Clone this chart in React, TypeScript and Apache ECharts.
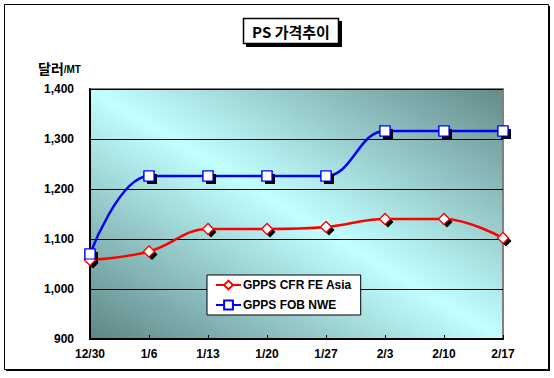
import React, { useEffect, useRef } from "react";
import * as echarts from "echarts";

const categories = ["12/30", "1/6", "1/13", "1/20", "1/27", "2/3", "2/10", "2/17"];
const cfrFeAsia = [1058, 1075, 1120, 1120, 1124, 1140, 1140, 1102];
const fobNwe = [1070, 1226, 1226, 1226, 1226, 1316, 1316, 1316];
const seriesNames = ["GPPS CFR FE Asia", "GPPS FOB NWE"];
const yTicks = { min: 900, max: 1400, interval: 100 };

const LATIN = "'Liberation Sans', Arial, 'Noto Sans CJK KR', sans-serif";
const KR = "'Noto Sans CJK KR', 'Liberation Sans', sans-serif";

export default function App() {
  const ref = useRef<HTMLDivElement>(null);

  useEffect(() => {
    if (!ref.current) return;
    const chart = echarts.init(ref.current, null, { renderer: "svg" });

    const shadowSeries = (name: string, data: number[], symbol: string, size: number) => ({
      name,
      type: "scatter",
      data,
      symbol,
      symbolSize: size,
      symbolOffset: [3, 3],
      itemStyle: { color: "#000000", opacity: 1 },
      z: 4,
      silent: true,
    });

    const markerSeries = (name: string, data: number[], symbol: string, size: number, color: string) => ({
      name,
      type: "scatter",
      data,
      symbol,
      symbolSize: size,
      itemStyle: { color: "#ffffff", borderColor: color, borderWidth: 1.2, opacity: 1 },
      z: 5,
      silent: true,
    });

    chart.setOption({
      animation: false,
      backgroundColor: "#ffffff",
      grid: {
        left: 90,
        right: 51,
        top: 89,
        bottom: 39,
        show: true,
        borderColor: "#808080",
        borderWidth: 2,
        backgroundColor: {
          type: "linear",
          x: 0,
          y: 1,
          x2: 1,
          y2: 0,
          colorStops: [
            { offset: 0, color: "#5e8686" },
            { offset: 0.5, color: "#c2ffff" },
            { offset: 1, color: "#638b8b" },
          ],
        },
      },
      legend: {
        data: seriesNames,
        orient: "vertical",
        left: 207,
        top: 275,
        backgroundColor: "#ffffff",
        borderColor: "#000000",
        borderWidth: 1,
        padding: [4, 9, 4, 8],
        itemWidth: 25,
        itemHeight: 11,
        itemGap: 8,
        textStyle: {
          fontFamily: LATIN,
          fontWeight: "bold",
          fontSize: 12,
          color: "#000",
          padding: [0, 0, 0, -3],
        },
      },
      xAxis: {
        type: "category",
        data: categories,
        boundaryGap: false,
        axisLine: { show: true, lineStyle: { color: "#000", width: 2 } },
        axisTick: { show: true, inside: true, length: 4, lineStyle: { color: "#000" } },
        axisLabel: {
          color: "#000",
          fontFamily: LATIN,
          fontWeight: "bold",
          fontSize: 12,
          margin: 9,
        },
        splitLine: { show: false },
      },
      yAxis: {
        type: "value",
        min: yTicks.min,
        max: yTicks.max,
        interval: yTicks.interval,
        axisLine: { show: true, lineStyle: { color: "#000", width: 2 } },
        axisTick: { show: false },
        axisLabel: {
          color: "#000",
          fontFamily: LATIN,
          fontWeight: "bold",
          fontSize: 12,
          margin: 16,
          formatter: (v: number) => v.toLocaleString("en-US"),
        },
        splitLine: { show: true, lineStyle: { color: "#000", width: 1 } },
      },
      series: [
        {
          name: seriesNames[0],
          type: "line",
          data: cfrFeAsia,
          smooth: 0.4,
          symbol: "diamond",
          symbolSize: 11,
          showSymbol: true,
          lineStyle: { color: "#ff0000", width: 2.5 },
          itemStyle: { color: "#ffffff", borderColor: "#ff0000", borderWidth: 1.2 },
          z: 3,
        },
        {
          name: seriesNames[1],
          type: "line",
          data: fobNwe,
          smooth: 0.4,
          symbol: "rect",
          symbolSize: 10,
          showSymbol: true,
          lineStyle: { color: "#0000ff", width: 2.5 },
          itemStyle: { color: "#ffffff", borderColor: "#0000ff", borderWidth: 1.2 },
          z: 3,
        },
        shadowSeries("s1", cfrFeAsia, "diamond", 11),
        shadowSeries("s2", fobNwe, "rect", 10),
        markerSeries("m1", cfrFeAsia, "diamond", 11, "#ff0000"),
        markerSeries("m2", fobNwe, "rect", 10, "#0000ff"),
      ],
      graphic: [
        {
          type: "rect",
          shape: { x: 4.5, y: 4.5, width: 544, height: 365 },
          style: { fill: "none", stroke: "#000", lineWidth: 1 },
          z: 0,
        },
        {
          type: "line",
          shape: { x1: 549.5, y1: 6, x2: 549.5, y2: 370.5 },
          style: { stroke: "#000", lineWidth: 1 },
        },
        {
          type: "line",
          shape: { x1: 6, y1: 370.5, x2: 550, y2: 370.5 },
          style: { stroke: "#000", lineWidth: 1 },
        },
        {
          type: "rect",
          shape: { x: 246, y: 21, width: 96, height: 26 },
          style: { fill: "#000" },
          z: 10,
        },
        {
          type: "rect",
          shape: { x: 243.5, y: 18.5, width: 95, height: 25 },
          style: { fill: "#fff", stroke: "#000", lineWidth: 1.5 },
          z: 11,
        },
        {
          type: "text",
          x: 291,
          y: 31,
          style: {
            text: "PS 가격추이",
            fontFamily: KR,
            fontWeight: "bold",
            fontSize: 15,
            fill: "#000",
            align: "center",
            verticalAlign: "middle",
          },
          z: 12,
        },
        {
          type: "text",
          x: 38,
          y: 68,
          style: {
            text: "{a|달러}{b|/MT}",
            verticalAlign: "middle",
            rich: {
              a: { fontFamily: KR, fontWeight: "bold", fontSize: 14, fill: "#000" },
              b: { fontFamily: LATIN, fontWeight: "bold", fontSize: 10, fill: "#000", padding: [3, 0, 0, 0] },
            },
          },
          z: 12,
        },
      ],
    });

    return () => chart.dispose();
  }, []);

  return (
    <div
      ref={ref}
      style={{ position: "absolute", left: 0, top: 0, width: 554, height: 378 }}
    />
  );
}
